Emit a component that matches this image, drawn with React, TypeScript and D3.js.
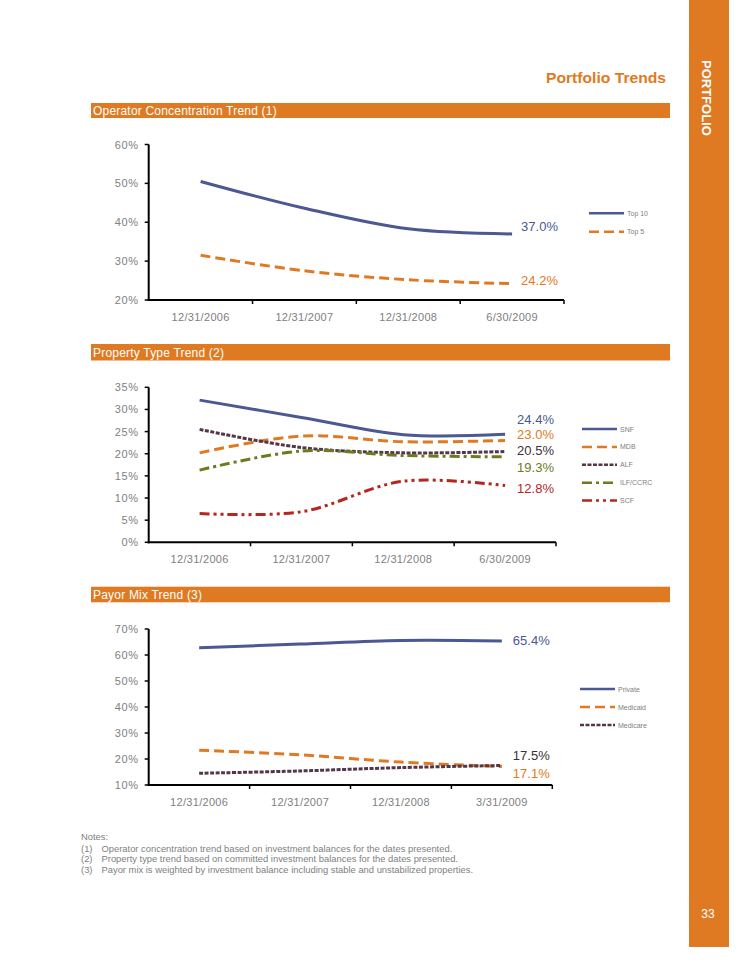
import React from "react";
import * as d3 from "d3";

// ---------- DATA ----------
const opDates = ["12/31/2006", "12/31/2007", "12/31/2008", "6/30/2009"];
const top10 = [50.5, 43.6, 38.3, 37.0];
const top5 = [31.5, 27.5, 25.2, 24.2];

const ptDates = ["12/31/2006", "12/31/2007", "12/31/2008", "6/30/2009"];
const snf = [32.1, 28.2, 24.3, 24.4];
const mdb = [20.2, 24.0, 22.7, 23.0];
const alf = [25.5, 21.4, 20.2, 20.5];
const ilf = [16.3, 20.6, 19.6, 19.3];
const scf = [6.5, 6.9, 13.8, 12.8];

const pmDates = ["12/31/2006", "12/31/2007", "12/31/2008", "3/31/2009"];
const privatePay = [62.8, 64.2, 65.6, 65.4];
const medicaid = [23.4, 21.6, 18.8, 17.1];
const medicare = [14.5, 15.4, 16.7, 17.5];

const opTicks = [20, 30, 40, 50, 60];
const ptTicks = [0, 5, 10, 15, 20, 25, 30, 35];
const pmTicks = [10, 20, 30, 40, 50, 60, 70];

const notes = [
  "Operator concentration trend based on investment balances for the dates presented.",
  "Property type trend based on committed investment balances for the dates presented.",
  "Payor mix is weighted by investment balance including stable and unstabilized properties.",
];

// ---------- STYLE ----------
const ORANGE = "#E07A22";
const NAVY = "#4B5891";
const PLUM = "#53364A";
const OLIVE = "#6C7B1F";
const RED = "#B3271E";
const GRAY = "#808080";
const FONT = "'Liberation Sans', Arial, Helvetica, sans-serif";

type Series = {
  name: string;
  values: number[];
  color: string;
  dash?: string;
  labelColor: string;
  labelDy: number;
};

type ChartProps = {
  dates: string[];
  series: Series[];
  ticks: number[];
  x0: number;
  x1: number;
  yTop: number;
  yBottom: number;
  labelDx: number;
  legendX: number;
  legendY: number;
  legendStep: number;
};

function LineChart(p: ChartProps) {
  const x = d3.scaleBand<string>().domain(p.dates).range([p.x0, p.x1]);
  const y = d3
    .scaleLinear()
    .domain([p.ticks[0], p.ticks[p.ticks.length - 1]])
    .range([p.yBottom, p.yTop]);
  const cx = (d: string) => (x(d) as number) + x.bandwidth() / 2;
  const line = d3
    .line<number>()
    .x((_, i) => cx(p.dates[i]))
    .y((v) => y(v))
    .curve(d3.curveCatmullRom.alpha(0.5));
  const boundaries = p.dates.map((d) => (x(d) as number) + x.bandwidth());
  const lastX = cx(p.dates[p.dates.length - 1]);

  return (
    <g>
      {p.ticks.map((t) => (
        <g key={"yt" + t}>
          <line x1={p.x0 - 4} x2={p.x0} y1={y(t)} y2={y(t)} stroke="#000" strokeWidth={1.5} />
          <text
            x={p.x0 - 10}
            y={y(t) + 4}
            textAnchor="end"
            fontSize={11}
            letterSpacing={0.6}
            fill={GRAY}
            fontFamily={FONT}
          >
            {t}%
          </text>
        </g>
      ))}
      {boundaries.map((b, i) => (
        <line key={"xt" + i} x1={b} x2={b} y1={p.yBottom} y2={p.yBottom + 4} stroke="#000" strokeWidth={1.5} />
      ))}
      {p.dates.map((d) => (
        <text
          key={"xl" + d}
          x={cx(d)}
          y={p.yBottom + 21}
          textAnchor="middle"
          fontSize={11}
          letterSpacing={0.3}
          fill={GRAY}
          fontFamily={FONT}
        >
          {d}
        </text>
      ))}
      <line x1={p.x0} x2={p.x0} y1={p.yTop} y2={p.yBottom + 1} stroke="#000" strokeWidth={2} />
      <line x1={p.x0 - 1} x2={p.x1} y1={p.yBottom} y2={p.yBottom} stroke="#000" strokeWidth={2} />
      {p.series.map((s) => (
        <path
          key={s.name}
          d={line(s.values) || ""}
          fill="none"
          stroke={s.color}
          strokeWidth={3}
          strokeDasharray={s.dash}
        />
      ))}
      {p.series.map((s) => (
        <text
          key={"lab" + s.name}
          x={lastX + p.labelDx}
          y={y(s.values[s.values.length - 1]) + s.labelDy}
          fontSize={13}
          fill={s.labelColor}
          fontFamily={FONT}
        >
          {s.values[s.values.length - 1].toFixed(1)}%
        </text>
      ))}
      {p.series.map((s, i) => (
        <g key={"lg" + s.name}>
          <line
            x1={p.legendX}
            x2={p.legendX + 35}
            y1={p.legendY + i * p.legendStep}
            y2={p.legendY + i * p.legendStep}
            stroke={s.color}
            strokeWidth={2.5}
            strokeDasharray={s.dash}
          />
          <text
            x={p.legendX + 38}
            y={p.legendY + i * p.legendStep + 2.5}
            fontSize={7}
            fill={GRAY}
            fontFamily={FONT}
          >
            {s.name}
          </text>
        </g>
      ))}
    </g>
  );
}

function Header({ y, h, text }: { y: number; h: number; text: string }) {
  return (
    <g>
      <rect x={91} y={y} width={579} height={h} fill={ORANGE} />
      <text x={93} y={y + h - 3.5} fontSize={12} letterSpacing={0.2} fill="#fff" fontFamily={FONT}>
        {text}
      </text>
    </g>
  );
}

export default function App() {
  const opSeries: Series[] = [
    { name: "Top 10", values: top10, color: NAVY, labelColor: NAVY, labelDy: -3 },
    { name: "Top 5", values: top5, color: ORANGE, dash: "10,5", labelColor: ORANGE, labelDy: 1 },
  ];
  const ptSeries: Series[] = [
    { name: "SNF", values: snf, color: NAVY, labelColor: NAVY, labelDy: -10 },
    { name: "MDB", values: mdb, color: ORANGE, dash: "10,5", labelColor: ORANGE, labelDy: -1.5 },
    { name: "ALF", values: alf, color: PLUM, dash: "4,1.5", labelColor: "#3b2f3a", labelDy: 3.5 },
    { name: "ILF/CCRC", values: ilf, color: OLIVE, dash: "10,4,3,4", labelColor: OLIVE, labelDy: 15 },
    { name: "SCF", values: scf, color: RED, dash: "10,4,3,4,3,4", labelColor: RED, labelDy: 7 },
  ];
  const pmSeries: Series[] = [
    { name: "Private", values: privatePay, color: NAVY, labelColor: NAVY, labelDy: 4 },
    { name: "Medicaid", values: medicaid, color: ORANGE, dash: "10,5", labelColor: ORANGE, labelDy: 11 },
    { name: "Medicare", values: medicare, color: PLUM, dash: "4,1.5", labelColor: "#3b2f3a", labelDy: -5.5 },
  ];

  return (
    <svg
      width={750}
      height={970}
      style={{ position: "absolute", left: 0, top: 0, background: "#fff" }}
    >
      <rect x={0} y={0} width={750} height={970} fill="#fff" />
      <rect x={689} y={0} width={40} height={947} fill={ORANGE} />
      <text
        transform="translate(702,60) rotate(90)"
        fontSize={13}
        fontWeight="bold"
        fill="#fff"
        fontFamily={FONT}
      >
        PORTFOLIO
      </text>
      <text x={708} y={918} textAnchor="middle" fontSize={12} fill="#fff" fontFamily={FONT}>
        33
      </text>

      <text
        x={666}
        y={83}
        textAnchor="end"
        fontSize={15.5}
        fontWeight="bold"
        fill={ORANGE}
        fontFamily={FONT}
        textLength={120}
        lengthAdjust="spacingAndGlyphs"
      >
        Portfolio Trends
      </text>

      <Header y={103} h={15} text="Operator Concentration Trend (1)" />
      <LineChart
        dates={opDates}
        series={opSeries}
        ticks={opTicks}
        x0={148.7}
        x1={564}
        yTop={144.5}
        yBottom={300}
        labelDx={9}
        legendX={589}
        legendY={213.3}
        legendStep={18.4}
      />

      <Header y={344} h={16.5} text="Property Type Trend (2)" />
      <LineChart
        dates={ptDates}
        series={ptSeries}
        ticks={ptTicks}
        x0={148.7}
        x1={556}
        yTop={387.3}
        yBottom={542.3}
        labelDx={12}
        legendX={582}
        legendY={429}
        legendStep={17.9}
      />

      <Header y={586.7} h={15.6} text="Payor Mix Trend (3)" />
      <LineChart
        dates={pmDates}
        series={pmSeries}
        ticks={pmTicks}
        x0={148.7}
        x1={552.3}
        yTop={629}
        yBottom={785}
        labelDx={11}
        legendX={580}
        legendY={689}
        legendStep={18}
      />

      <text x={81} y={839.5} fontSize={9.4} fill={GRAY} fontFamily={FONT}>
        Notes:
      </text>
      {notes.map((n, i) => (
        <g key={"n" + i}>
          <text x={81} y={851.5 + i * 10.5} fontSize={9.4} fill={GRAY} fontFamily={FONT}>
            ({i + 1})
          </text>
          <text x={101.5} y={851.5 + i * 10.5} fontSize={9.4} fill={GRAY} fontFamily={FONT}>
            {n}
          </text>
        </g>
      ))}
    </svg>
  );
}
